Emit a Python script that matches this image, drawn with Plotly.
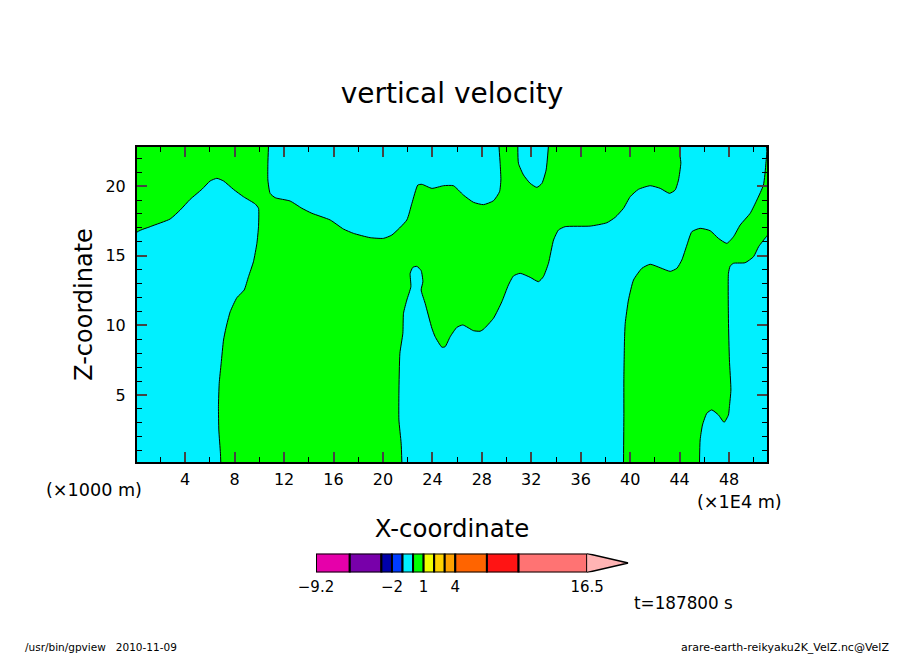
# vertical velocity cross section, gpview style
import plotly.graph_objects as go

FONT = "DejaVu Sans"
CYAN = "#00F0FF"
GREEN = "#00FF00"

x_min, x_max = 0.1, 51.07
z_min, z_max = 0.19, 22.81

x_ticks = [4, 8, 12, 16, 20, 24, 28, 32, 36, 40, 44, 48]
z_ticks = [5, 10, 15, 20]

# boundaries of the cyan areas (green sits underneath)
left_x = [0, 0, 1.17, 2.78, 3.59, 4.40, 5.35, 6.02, 6.56, 7.10, 7.90, 8.71, 9.66, 9.93, 9.93, 9.80, 9.52, 9.12, 8.77,
          8.18, 7.64, 7.29, 7.10, 6.91, 6.75, 6.69, 6.72, 6.85, 6.88]
left_z = [0.14, 16.61, 17.09, 17.64, 18.28, 19.05, 19.77, 20.37, 20.56, 20.37, 19.77, 19.24, 18.72, 18.41, 17.09, 15.89,
          14.57, 13.50, 12.54, 11.99, 10.98, 9.79, 8.95, 7.28, 5.84, 4.16, 2.49, 0.82, 0.14]

top_x = [10.74, 10.69, 10.69, 10.87, 11.28, 12.49, 13.44, 14.25, 15.73, 16.80, 17.61, 18.96, 20.04, 20.72, 21.93, 22.34,
         22.82, 23.15, 23.96, 24.90, 25.70, 26.51, 27.32, 28.13, 28.94, 29.43, 29.54, 29.48, 29.38]
top_z = [22.9, 21.64, 20.44, 19.48, 19.17, 18.93, 18.41, 18.05, 17.57, 16.92, 16.61, 16.30, 16.25, 16.49, 17.57, 18.76,
         20.08, 20.13, 19.84, 20.03, 20.03, 19.36, 18.84, 18.67, 18.95, 19.60, 20.44, 21.64, 22.9]

bowl_x = [30.91, 30.96, 31.37, 31.91, 32.45, 32.86, 33.20, 33.39]
bowl_z = [22.9, 21.64, 20.80, 20.20, 19.91, 20.20, 21.16, 22.9]

mid_x = [21.53, 21.47, 21.29, 21.29, 21.37, 21.61, 21.66, 21.93, 22.26, 22.20, 22.42, 22.74, 23.09, 23.23, 23.09, 23.41,
         23.96, 24.22, 24.77, 25.03, 25.44, 25.98, 26.46, 27.32, 27.86, 28.13, 28.94, 29.62, 30.15, 30.56, 31.10, 31.91,
         32.58, 32.98, 33.39, 33.80, 34.20, 34.74, 36.76, 38.11, 38.79, 39.46, 40.00, 40.67, 41.62, 42.43, 43.18, 43.64,
         43.91, 44.10, 44.05, 50.98, 50.98, 50.78, 50.25, 49.71, 48.90, 48.36, 47.82, 47.14, 46.47, 45.66, 44.99, 44.59,
         44.18, 43.78, 43.24, 42.43, 41.62, 40.95, 40.27, 39.86, 39.60, 39.54, 39.49, 39.49, 39.46]
mid_z = [0.14, 1.54, 3.21, 5.13, 8.00, 9.43, 10.87, 11.82, 12.78, 13.74, 14.17, 14.24, 13.93, 13.14, 12.54, 11.59,
         9.79, 9.19, 8.43, 8.47, 9.19, 9.86, 10.03, 9.62, 9.58, 9.72, 10.51, 11.70, 12.90, 13.55, 13.74, 13.45,
         13.14, 13.50, 14.46, 16.13, 16.85, 17.09, 17.13, 17.37, 17.76, 18.41, 19.24, 19.77, 20.03, 19.84, 19.48, 19.72,
         20.44, 21.64, 22.9, 22.9, 21.64, 20.08, 19.00, 18.05, 17.21, 16.37, 15.89, 16.25, 16.80, 16.97, 16.73, 15.77,
         14.70, 14.10, 13.88, 14.14, 14.39, 14.10, 13.26, 11.82, 10.15, 8.95, 6.08, 3.45, 0.14]

right_x = [45.61, 45.66, 45.85, 46.20, 46.60, 47.14, 47.60, 47.95, 48.03, 48.15, 48.03, 47.95, 47.95, 48.09, 48.36, 49.30,
           49.98, 50.39, 51.06, 51.2, 51.2]
right_z = [0.14, 1.77, 2.85, 3.69, 3.93, 3.57, 3.04, 3.57, 4.16, 5.36, 7.52, 10.39, 13.74, 14.26, 14.46, 14.50,
           14.93, 15.65, 16.42, 16.55, 0.14]

# colour bar
bar_levels = [-9.2, -6, -3, -2, -1, 0, 1, 2, 3, 4, 7, 10, 16.5]
bar_colors = ["#E600AA", "#7800AA", "#0000AA", "#003CFF", "#00F0FF", "#00FF00", "#F0FF00",
              "#FFD200", "#FFA000", "#FF6400", "#FF1414", "#FF7373"]
bar_tip = 20.4
bar_tip_color = "#FFB4B4"
bar_ticks = [-9.2, -2, 1, 4, 16.5]
bar_tick_text = ["\u22129.2", "\u22122", "1", "4", "16.5"]

fig = go.Figure()

# green underlay only for the main panel, the colour bar panel stays white
fig.add_trace(go.Scatter(x=[x_min, x_max, x_max, x_min], y=[z_min, z_min, z_max, z_max], mode="none",
                         fill="toself", fillcolor=GREEN))

for xs, zs in [(left_x, left_z), (top_x, top_z), (bowl_x, bowl_z), (mid_x, mid_z), (right_x, right_z)]:
    fig.add_trace(go.Scatter(x=xs, y=zs, mode="lines", fill="toself", fillcolor=CYAN,
                             line=dict(color="black", width=1, shape="spline", smoothing=0.5)))

widths = [b - a for a, b in zip(bar_levels[:-1], bar_levels[1:])]
fig.add_trace(go.Bar(x=widths, y=[0.5] * len(widths), base=bar_levels[:-1], orientation="h", width=1,
                     marker=dict(color=bar_colors, line=dict(color="black", width=2)),
                     xaxis="x2", yaxis="y2"))
fig.add_trace(go.Scatter(x=[bar_levels[-1], bar_tip, bar_levels[-1]], y=[1, 0.5, 0], mode="lines", fill="toself",
                         fillcolor=bar_tip_color, line=dict(color="black", width=1.5),
                         xaxis="x2", yaxis="y2"))

fig.update_layout(
    template="none",
    width=904, height=654, autosize=False,
    margin=dict(l=0, r=0, t=0, b=0),
    paper_bgcolor="white",
    plot_bgcolor="white",
    showlegend=False,
    barmode="overlay",
    font=dict(family=FONT, color="black", size=16),
    title=dict(text="vertical velocity", x=452 / 904, y=1 - 93 / 654, xanchor="center", yanchor="middle",
               font=dict(size=28)),
    xaxis=dict(domain=[137 / 904, 767 / 904], range=[x_min, x_max], anchor="y",
               tickvals=x_ticks, ticks="inside", ticklen=10, tickwidth=2, mirror="allticks", ticklabelstandoff=2,
               showline=True, linecolor="black", linewidth=2, showgrid=False, zeroline=False,
               minor=dict(dtick=2, ticks="inside", ticklen=5, tickwidth=1, tickcolor="black", showgrid=False),
               title=dict(text="X-coordinate", font=dict(size=24.4), standoff=32)),
    yaxis=dict(domain=[1 - 462 / 654, 1 - 147 / 654], range=[z_min, z_max], anchor="x",
               tickvals=z_ticks, ticks="inside", ticklen=10, tickwidth=2, mirror="allticks", ticklabelstandoff=6,
               showline=True, linecolor="black", linewidth=2, showgrid=False, zeroline=False,
               minor=dict(dtick=1, ticks="inside", ticklen=5, tickwidth=1, tickcolor="black", showgrid=False),
               title=dict(text="Z-coordinate", font=dict(size=24), standoff=6)),
    xaxis2=dict(domain=[316 / 904, 628.3 / 904], range=[bar_levels[0], bar_tip], anchor="y2",
                tickvals=bar_ticks, ticktext=bar_tick_text, ticks="", showgrid=False, zeroline=False,
                ticklabelstandoff=3, tickfont=dict(size=15)),
    yaxis2=dict(domain=[1 - 572.5 / 654, 1 - 553.5 / 654], range=[0, 1], anchor="x2",
                showticklabels=False, ticks="", showgrid=False, zeroline=False),
    annotations=[
        dict(text="(\u00d71000 m)", x=44 / 904, y=1 - 490 / 654, xref="paper", yref="paper", xanchor="left",
             yanchor="middle", showarrow=False, font=dict(size=17.6)),
        dict(text="(\u00d71E4 m)", x=784 / 904, y=1 - 502 / 654, xref="paper", yref="paper", xanchor="right",
             yanchor="middle", showarrow=False, font=dict(size=17.6)),
        dict(text="t=187800 s", x=632 / 904, y=1 - 603 / 654, xref="paper", yref="paper", xanchor="left",
             yanchor="middle", showarrow=False, font=dict(size=16.8)),
        dict(text="/usr/bin/gpview   2010-11-09", x=23 / 904, y=1 - 647 / 654, xref="paper", yref="paper",
             xanchor="left", yanchor="middle", showarrow=False, font=dict(size=10.5)),
        dict(text="arare-earth-reikyaku2K_VelZ.nc@VelZ", x=891 / 904, y=1 - 647 / 654, xref="paper", yref="paper",
             xanchor="right", yanchor="middle", showarrow=False, font=dict(size=11)),
    ],
)

fig.write_html("out.html", config=dict(displayModeBar=False), post_script="document.body.style.margin = '0';")
